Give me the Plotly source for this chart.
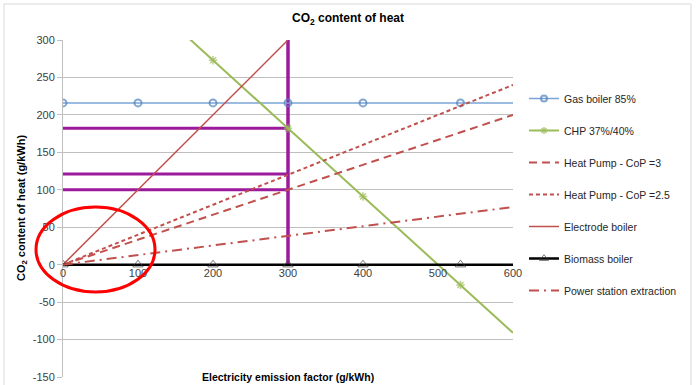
import plotly.graph_objects as go

# ---- data ----
x_pts = [0, 100, 200, 300, 400, 530, 600]
gas_boiler = [216, 216, 216, 216, 216, 216, 216]
chp = [455, 364, 273, 182, 91, -27, -91]
heat_pump_cop3 = [0, 33.3, 66.7, 100, 133.3, 176.7, 200]
heat_pump_cop25 = [0, 40, 80, 120, 160, 212, 240]
electrode_x = [0, 100, 200, 300]
electrode_boiler = [0, 100, 200, 300]
biomass_boiler = [0, 0, 0, 0, 0, 0, 0]
power_station = [0, 12.8, 25.6, 38.5, 51.3, 68, 77]
marker_sizes = [7, 7, 7, 7, 7, 7, 0]

highlight_x = 300
highlight_levels = [182, 121, 100]

x_ticks = [0, 100, 200, 300, 400, 500, 600]
y_ticks = [-150, -100, -50, 0, 50, 100, 150, 200, 250, 300]
y_tick_labels = [str(v) for v in y_ticks]

FONT = "Liberation Sans, Arial, sans-serif"
RED = "#C0504D"
PURPLE = "#9C1A9C"

fig = go.Figure()

# highlight (purple) lines
for lvl in highlight_levels:
    fig.add_trace(go.Scatter(x=[0, highlight_x], y=[lvl, lvl], mode="lines",
                             line=dict(color=PURPLE, width=3), showlegend=False,
                             hoverinfo="skip"))
fig.add_trace(go.Scatter(x=[highlight_x, highlight_x], y=[0, 300], mode="lines",
                         line=dict(color=PURPLE, width=3.5), showlegend=False,
                         hoverinfo="skip"))

fig.add_trace(go.Scatter(x=x_pts, y=gas_boiler, name="Gas boiler 85%", legendgroup="a",
                         mode="lines+markers",
                         line=dict(color="#7BA4D6", width=1.5),
                         marker=dict(symbol="circle-open", size=marker_sizes, color="#4F81BD",
                                     line=dict(width=2, color="#4F81BD"))))
fig.add_trace(go.Scatter(x=x_pts, y=chp, name="CHP 37%/40%", legendgroup="b",
                         mode="lines+markers",
                         line=dict(color="#9BBB59", width=2),
                         marker=dict(symbol="asterisk-open", size=marker_sizes, color="#9BBB59",
                                     line=dict(width=1.5, color="#9BBB59"))))
fig.add_trace(go.Scatter(x=x_pts, y=heat_pump_cop3, name="Heat Pump - CoP =3", legendgroup="c",
                         mode="lines", line=dict(color=RED, width=2, dash="8px,5px")))
fig.add_trace(go.Scatter(x=x_pts, y=heat_pump_cop25, name="Heat Pump - CoP =2.5", legendgroup="d",
                         mode="lines", line=dict(color=RED, width=2, dash="4px,3px")))
fig.add_trace(go.Scatter(x=electrode_x, y=electrode_boiler, name="Electrode boiler", legendgroup="e",
                         mode="lines", line=dict(color=RED, width=1.5)))
fig.add_trace(go.Scatter(x=x_pts, y=biomass_boiler, name="Biomass boiler", legendgroup="f",
                         mode="lines+markers",
                         line=dict(color="#000000", width=2.5),
                         marker=dict(symbol="triangle-up-open", size=[s + 2 if s else 0 for s in marker_sizes],
                                     color="#404040", line=dict(width=1, color="#404040"))))
fig.add_trace(go.Scatter(x=x_pts, y=power_station, name="Power station extraction", legendgroup="g",
                         mode="lines", line=dict(color=RED, width=2, dash="10px,5px,2px,5px")))

L, R, T, B = 63, 183, 40, 8
W, H = 696, 385
pw, ph = W - L - R, H - T - B


def px(xp):
    return (xp - L) / pw


def py(yp):
    return (H - B - yp) / ph


fig.update_layout(
    width=W, height=H,
    margin=dict(l=L, r=R, t=T, b=B, autoexpand=False),
    paper_bgcolor="white", plot_bgcolor="white",
    font=dict(family=FONT, size=11, color="#404040"),
    title=dict(text="<b>CO<sub>2</sub> content of heat</b>", x=348 / W, xanchor="center",
               y=1 - 18 / H, yanchor="middle", font=dict(size=12, color="#000000")),
    showlegend=True,
    legend=dict(x=px(524), y=py(84), xanchor="left", yanchor="top",
                font=dict(size=10.5, color="#262626"), tracegroupgap=13, itemwidth=30,
                bgcolor="rgba(0,0,0,0)"),
    xaxis=dict(range=[0, 600], tickvals=x_ticks, showgrid=False, zeroline=False,
               anchor="free", position=1 / 3, showline=False, ticks="", automargin=False,
               tickfont=dict(size=11, color="#404040"), fixedrange=True),
    yaxis=dict(range=[-150, 300], tickvals=y_ticks, ticktext=y_tick_labels,
               showgrid=True, gridcolor="#BFBFBF", automargin=False,
               gridwidth=1, zeroline=False, showline=True, linecolor="#BFBFBF", linewidth=1,
               ticks="outside", ticklen=5, tickcolor="#BFBFBF",
               tickfont=dict(size=11, color="#404040")),
    shapes=[
        dict(type="rect", xref="paper", yref="paper", x0=px(4), x1=px(691), y0=py(392), y1=py(4),
             line=dict(color="#D9D9D9", width=1), layer="below"),
        dict(type="circle", xref="paper", yref="paper", x0=px(36), x1=px(155), y0=py(292), y1=py(207),
             line=dict(color="#FF0000", width=3)),
    ],
    annotations=[
        dict(text="<b>CO<sub>2</sub> content of heat (g/kWh)</b>", xref="paper", yref="paper",
             x=px(22), y=py(208), textangle=-90, showarrow=False,
             font=dict(size=11, color="#000000"), xanchor="center", yanchor="middle"),
        dict(text="<b>Electricity emission factor (g/kWh)</b>", xref="paper", yref="paper",
             x=px(288), y=py(385), showarrow=False, xanchor="center", yanchor="bottom",
             font=dict(size=10.5, color="#000000")),
    ],
)

fig.write_html("out.html", config={"displayModeBar": False},
               post_script="document.body.style.margin='0';document.body.style.overflow='hidden';")
